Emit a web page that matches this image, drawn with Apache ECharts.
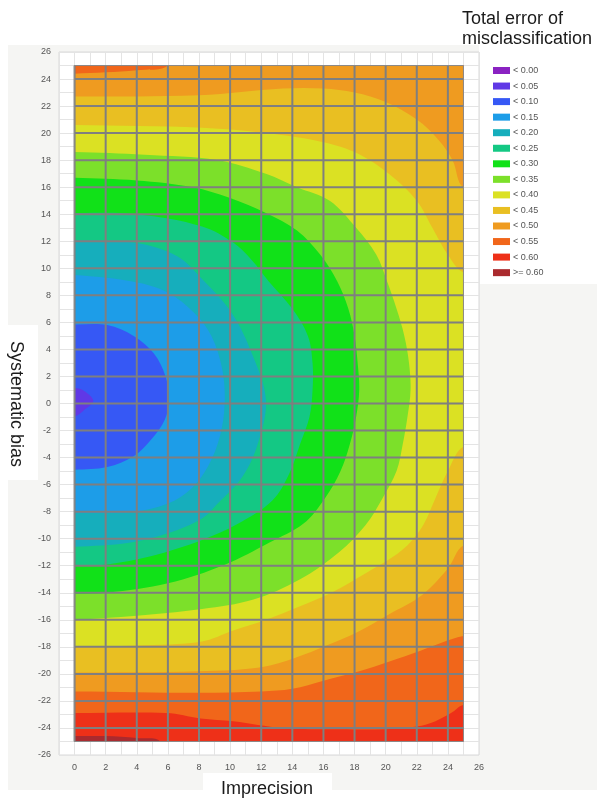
<!DOCTYPE html>
<html><head><meta charset="utf-8">
<script src="https://cdn.jsdelivr.net/npm/echarts@6/dist/echarts.min.js"></script>
<style>html,body{margin:0;padding:0;background:#fff}#c{width:597px;height:799px}</style>
</head><body><div id="c"></div>
<script>
// ---- data ----
const legendLabels = ['< 0.00','< 0.05','< 0.10','< 0.15','< 0.20','< 0.25','< 0.30','< 0.35','< 0.40','< 0.45','< 0.50','< 0.55','< 0.60','>= 0.60'];
const bandColors = ['#8a22c2','#6038e6','#3658f5','#1d9de8','#16aebc','#14c884','#11e118','#7ce02a','#dbe123','#e9bf22','#ef9b20','#f1661a','#ee3018','#aa2a2e'];
const xTickValues = [0,2,4,6,8,10,12,14,16,18,20,22,24,26];
const yTickValues = [-26,-24,-22,-20,-18,-16,-14,-12,-10,-8,-6,-4,-2,0,2,4,6,8,10,12,14,16,18,20,22,24,26];
const majorX = [0,2,4,6,8,10,12,14,16,18,20,22,24];
const majorY = [-24,-22,-20,-18,-16,-14,-12,-10,-8,-6,-4,-2,0,2,4,6,8,10,12,14,16,18,20,22,24];
const dataExtent = {x0:0, x1:25, y0:-25, y1:25};

// contour lines [imprecision, bias]
const c005 = [[0,1.15],[0.6,0.95],[1.2,0.2],[0.6,-0.5],[0,-0.95]];
const c010 = [[0,5.85],[2.1,5.8],[3.8,5.0],[5.1,3.7],[5.85,2.0],[6.05,0.3],[5.8,-1.2],[4.9,-2.7],[3.8,-3.9],[2.1,-4.7],[0,-4.9]];
const c015 = [[0,9.5],[3.8,9.0],[6.0,8.2],[7.7,6.7],[8.8,5.0],[9.5,2.5],[9.65,0.0],[9.35,-2.4],[8.6,-4.6],[7.5,-6.3],[6.0,-7.4],[3.8,-8.0],[0,-8.1]];
const c020 = [[0,12.1],[3.8,11.9],[6.6,10.9],[8.2,9.2],[10.1,6.7],[11.4,3.7],[12.3,0.3],[11.8,-2.9],[10.8,-5.4],[9.2,-7.4],[8.2,-8.5],[6.0,-9.6],[3.5,-10.3],[0,-10.6]];
const c025 = [[0,14.1],[4,14.0],[8.2,13.1],[10.2,11.9],[11.4,10.6],[12.5,9.0],[14.0,7.0],[15.0,5.0],[15.3,3.0],[15.3,1.0],[15.1,-1.0],[14.5,-3.0],[13.8,-5.2],[12.7,-7.2],[10.5,-8.9],[8.2,-10.1],[4.9,-11.3],[2.1,-11.9],[0,-12.0]];
const c030 = [[0,16.7],[4,16.5],[7.6,16.0],[10,15.2],[12.3,14.1],[14.3,12.8],[15.8,11],[16.9,9],[17.6,7],[18.0,5],[18.2,3],[18.3,1],[18.1,-1],[17.7,-3],[17.1,-5],[16.1,-7],[14.7,-8.9],[12.5,-10.3],[9.7,-11.9],[6,-13.3],[2.1,-14],[0,-14.1]];
const c035 = [[0,18.6],[4.5,18.4],[9.2,18.0],[12.3,17.0],[14.3,16.0],[16.4,15],[18.1,13],[19.4,11],[20.1,9],[20.7,7],[21.2,5],[21.5,3],[21.6,1],[21.4,-1],[21.1,-3],[20.7,-5],[19.8,-7],[18.7,-9],[17.0,-11],[14.5,-13],[11.5,-14.5],[8.2,-15.2],[4,-15.7],[0,-16.0]];
const c040Bottom = [[0,-18.0],[4,-17.9],[8.2,-17.6],[10.2,-16.8],[12.3,-16.0],[14.5,-15.0],[16.5,-14.0],[18.8,-12.5],[21,-10.9],[22.3,-9.2],[23.2,-7],[24,-5],[25,-3.2]];
const c040Top = [[25,9.7],[24,11],[23,13],[22,15],[20.2,17],[18,18.6],[15.7,19.4],[12.3,20.0],[8.2,20.4],[0,20.6]];
const c045Bottom = [[0,-19.9],[8,-19.8],[12,-19.5],[14.2,-18.8],[16.2,-17.9],[18.2,-16.9],[20.2,-15.6],[22.3,-14.2],[24,-12.2],[25,-10.5]];
const c045Top = [[25,16],[24.3,18],[23.4,19.5],[22,21],[20,22.3],[18,23],[16,23.3],[13.4,23.3],[8,22.8],[0,22.7]];
const c050Bottom = [[0,-21.3],[8,-21.4],[12,-21.3],[14,-21.1],[16,-20.5],[18.3,-19.8],[20.2,-19.1],[22.2,-18.3],[25,-17.2]];
const c050Top = [[6,25],[4,24.65],[2,24.5],[0,24.4]];
const c055 = [[0,-22.9],[5.9,-22.9],[8.1,-23.3],[10.2,-23.5],[13.4,-24.0],[17,-24.1],[20,-24.1],[22,-23.9],[23.2,-23.5],[24.2,-22.9],[25,-22.3]];
const c060 = [[0,-24.6],[2,-24.6],[4,-24.75],[5.5,-25]];

// regions {value < level}: band index + contour parts (strings = outside corners)
const regions = [
  {band:12, parts:[c060,'BR','TR','TL']},
  {band:11, parts:[c055,'TR','TL']},
  {band:10, parts:[c050Bottom,'TR',c050Top]},
  {band:9,  parts:[c045Bottom,c045Top]},
  {band:8,  parts:[c040Bottom,c040Top]},
  {band:7,  parts:[c035]},
  {band:6,  parts:[c030]},
  {band:5,  parts:[c025]},
  {band:4,  parts:[c020]},
  {band:3,  parts:[c015]},
  {band:2,  parts:[c010]},
  {band:1,  parts:[c005]}
];

// ---- drawing ----
const PAD = 2;
const OUT = {
  BR:[dataExtent.x1+PAD, dataExtent.y0-PAD], TR:[dataExtent.x1+PAD, dataExtent.y1+PAD],
  TL:[dataExtent.x0-PAD, dataExtent.y1+PAD], BL:[dataExtent.x0-PAD, dataExtent.y0-PAD]
};
function ext(p){
  if (p[0] <= dataExtent.x0) return [dataExtent.x0-PAD, p[1]];
  if (p[0] >= dataExtent.x1) return [dataExtent.x1+PAD, p[1]];
  if (p[1] >= dataExtent.y1) return [p[0], dataExtent.y1+PAD];
  return [p[0], dataExtent.y0-PAD];
}
function renderItem(params, api){
  const P = p => api.coord(p);
  const fills = [];
  fills.push({type:'polygon', shape:{points:[OUT.BL,OUT.BR,OUT.TR,OUT.TL].map(P)}, style:{fill:bandColors[13]}});
  regions.forEach(r => {
    const pts = [];
    r.parts.forEach(part => {
      if (typeof part === 'string') pts.push(OUT[part]);
      else { pts.push(ext(part[0])); part.forEach(q => pts.push(q)); pts.push(ext(part[part.length-1])); }
    });
    fills.push({type:'polygon', shape:{points:pts.map(P), smooth:0.35}, style:{fill:bandColors[r.band]}});
  });
  const tl = P([dataExtent.x0, dataExtent.y1]), br = P([dataExtent.x1, dataExtent.y0]);
  const lines = [];
  majorX.forEach(x => { const a = P([x, dataExtent.y1]), b = P([x, dataExtent.y0]);
    lines.push({type:'line', shape:{x1:a[0], y1:a[1], x2:b[0], y2:b[1]}, style:{stroke:'#7f7f7f', lineWidth:2}}); });
  majorY.forEach(y => { const a = P([dataExtent.x0, y]), b = P([dataExtent.x1, y]);
    lines.push({type:'line', shape:{x1:a[0], y1:a[1], x2:b[0], y2:b[1]}, style:{stroke:'#7f7f7f', lineWidth:2}}); });
  lines.push({type:'rect', shape:{x:tl[0], y:tl[1], width:br[0]-tl[0], height:br[1]-tl[1]}, style:{fill:null, stroke:'#8a8a8a', lineWidth:1}});
  return {type:'group', children:[
    {type:'group', children:fills, clipPath:{type:'rect', shape:{x:tl[0], y:tl[1], width:br[0]-tl[0], height:br[1]-tl[1]}}},
    {type:'group', children:lines}
  ]};
}

const legendItems = [];
legendLabels.forEach((lab, i) => {
  legendItems.push({type:'rect', left:493, top:67 + i*15.55, shape:{width:17, height:7}, style:{fill:bandColors[i]}});
  legendItems.push({type:'text', left:513, top:66 + i*15.55, style:{text:lab, fill:'#555', font:'9px "Liberation Sans", Arial, sans-serif'}});
});

const FONT = '"Liberation Sans", Arial, sans-serif';
const chart = echarts.init(document.getElementById('c'), null, {renderer:'canvas'});
chart.setOption({
  animation:false,
  backgroundColor:'#ffffff',
  grid:{left:59, right:118, top:52, bottom:44, show:true, backgroundColor:'#ffffff', borderColor:'#d8d8d8', borderWidth:1},
  xAxis:{type:'value', min:-1, max:26, interval:1,
    axisLine:{show:false}, axisTick:{show:false},
    splitLine:{show:true, lineStyle:{color:'#e4e4e4', width:1}},
    axisLabel:{interval:0, margin:8, fontSize:9, color:'#555', fontFamily:FONT,
      formatter: v => xTickValues.indexOf(v) >= 0 ? String(v) : ''}},
  yAxis:{type:'value', min:-26, max:26, interval:1,
    axisLine:{show:false}, axisTick:{show:false},
    splitLine:{show:true, lineStyle:{color:'#e4e4e4', width:1}},
    axisLabel:{interval:0, margin:8, fontSize:9, color:'#555', fontFamily:FONT,
      formatter: v => yTickValues.indexOf(v) >= 0 ? String(v) : ''}},
  graphic:[
    {type:'rect', z:-100, left:8, top:45, shape:{width:589, height:745}, style:{fill:'#f5f5f3'}},
    {type:'rect', z:-90, left:479, top:40, shape:{width:118, height:244}, style:{fill:'#ffffff'}},
    {type:'rect', z:-90, left:0, top:325, shape:{width:38, height:155}, style:{fill:'#ffffff'}},
    {type:'rect', z:-90, left:203, top:773, shape:{width:129, height:26}, style:{fill:'#ffffff'}},
    {type:'text', left:462, top:10, style:{text:'Total error of', fill:'#1a1a1a', font:'18px ' + FONT}},
    {type:'text', left:462, top:30, style:{text:'misclassification', fill:'#1a1a1a', font:'18px ' + FONT}},
    {type:'text', left:221, top:780, style:{text:'Imprecision', fill:'#1a1a1a', font:'18px ' + FONT}},
    {type:'text', x:16, y:404, rotation:-Math.PI/2, style:{text:'Systematic bias', fill:'#1a1a1a', font:'18px ' + FONT, align:'center', verticalAlign:'middle'}},
    {type:'group', children:legendItems}
  ],
  series:[{type:'custom', coordinateSystem:'cartesian2d', renderItem, data:[[0,0]], silent:true, z:3}]
});
</script></body></html>
